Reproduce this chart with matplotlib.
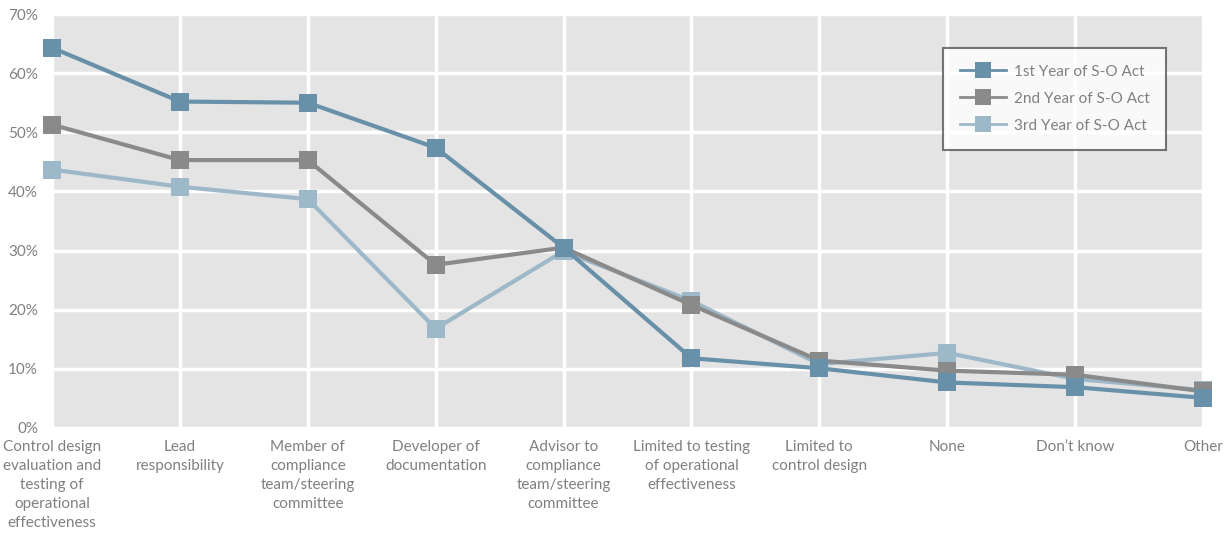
import matplotlib.pyplot as plt
from matplotlib.ticker import FuncFormatter

# Rol de auditoría interna en cada año de la ley S-O (% de respuestas)
categorias = [
    'Control design\nevaluation and\ntesting of\noperational\neffectiveness',
    'Lead\nresponsibility',
    'Member of\ncompliance\nteam/steering\ncommittee',
    'Developer of\ndocumentation',
    'Advisor to\ncompliance\nteam/steering\ncommittee',
    'Limited to testing\nof operational\neffectiveness',
    'Limited to\ncontrol design',
    'None',
    'Don\u2019t know',
    'Other',
]
anio_1 = [64.3, 55.2, 55.0, 47.4, 30.5, 11.8, 10.1, 7.7, 6.9, 5.1]
anio_2 = [51.3, 45.3, 45.3, 27.6, 30.5, 20.8, 11.4, 9.7, 9.0, 6.2]
anio_3 = [43.7, 40.8, 38.7, 16.8, 29.9, 21.5, 10.8, 12.7, 8.3, 6.4]
etiquetas = ['1st Year of S-O Act', '2nd Year of S-O Act', '3rd Year of S-O Act']

colores = ['#6890a8', '#8a8a8b', '#9db8c9']
texto = '#808080'

plt.rcParams['font.family'] = ['Lato', 'DejaVu Sans']

fig = plt.figure(figsize=(12.27, 5.33), dpi=100)
ax = fig.add_axes([0.0424, 0.197, 0.938, 0.7767])
ax.set_facecolor('#e4e4e4')

x = list(range(len(categorias)))
series = [(anio_1, 5), (anio_3, 3), (anio_2, 4)]
orden = [0, 2, 1]
for (valores, z), i in zip(series, orden):
    ax.plot(x, valores, color=colores[i], lw=3, marker='s', markersize=13,
            markeredgewidth=0, label=etiquetas[i], zorder=z, clip_on=False)

ax.set_xlim(0, 9)
ax.set_ylim(0, 70)
ax.set_yticks(range(0, 71, 10))
ax.yaxis.set_major_formatter(FuncFormatter(lambda v, p: f'{v:.0f}%'))
ax.set_xticks(x)
ax.set_xticklabels(categorias, linespacing=1.45)
ax.tick_params(length=0, labelsize=11, labelcolor=texto)
ax.tick_params(axis='x', pad=9)
ax.tick_params(axis='y', pad=10)
ax.grid(True, color='white', lw=2.5)
ax.set_axisbelow(True)
for s in ax.spines.values():
    s.set_visible(False)

# leyenda en orden 1º, 2º, 3º año
h, l = ax.get_legend_handles_labels()
pos = [l.index(e) for e in etiquetas]
leg = ax.legend([h[p] for p in pos], etiquetas, loc='upper right',
                bbox_to_anchor=(0.968, 0.918), fontsize=11, frameon=True,
                fancybox=False, borderpad=1.1, labelspacing=0.85,
                handlelength=3.0, handletextpad=0.5, labelcolor=texto,
                borderaxespad=0)
leg.get_frame().set_edgecolor('#555555')
leg.get_frame().set_linewidth(1.5)
leg.get_frame().set_facecolor('white')
for line in leg.get_lines():
    line.set_linewidth(2)
    line.set_markersize(11)

fig.savefig('out.png', dpi=100, facecolor='white')
